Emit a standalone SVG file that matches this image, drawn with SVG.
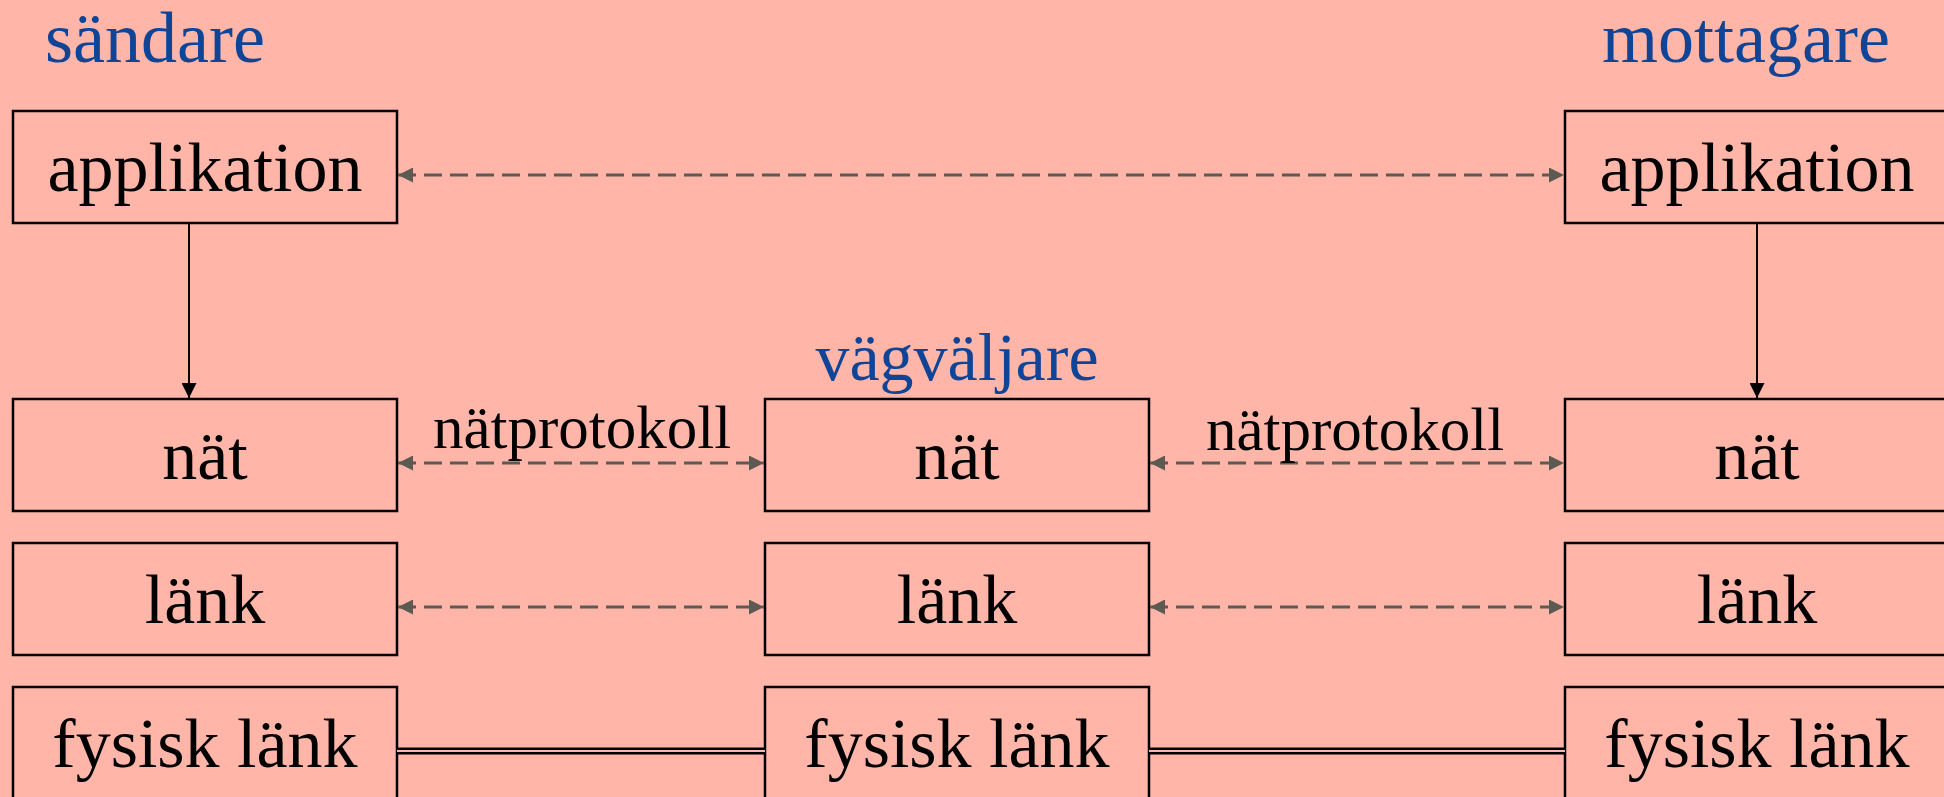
<svg xmlns="http://www.w3.org/2000/svg" width="1944" height="797" viewBox="0 0 1944 797">
<defs>
<style>
.box{fill:none;stroke:#000;stroke-width:2.5}
.lbl{font-family:"Liberation Serif",serif;font-size:70px;fill:#000;text-anchor:middle}
.role{font-family:"Liberation Serif",serif;font-size:72px;fill:#0f4496;text-anchor:middle}
.proto{font-family:"Liberation Serif",serif;font-size:61px;fill:#000;text-anchor:middle}
.dash{stroke:#5c5a52;stroke-width:3;stroke-dasharray:18 8;fill:none;marker-start:url(#hs);marker-end:url(#he)}
.solid{stroke:#000;stroke-width:2;fill:none;marker-end:url(#ha)}
.dbl{stroke:#000;stroke-width:7;fill:none}
.dblin{stroke:#ffb5a8;stroke-width:2;fill:none}
</style>
<marker id="he" viewBox="0 0 15 15" refX="15" refY="7.5" markerWidth="15" markerHeight="15" markerUnits="userSpaceOnUse" orient="auto"><path d="M0,0 L15,7.5 L0,15 z" fill="#5c5a52"/></marker>
<marker id="hs" viewBox="0 0 15 15" refX="0" refY="7.5" markerWidth="15" markerHeight="15" markerUnits="userSpaceOnUse" orient="auto"><path d="M15,0 L0,7.5 L15,15 z" fill="#5c5a52"/></marker>
<marker id="ha" viewBox="0 0 15 15" refX="7.5" refY="15" markerWidth="15" markerHeight="15" markerUnits="userSpaceOnUse" orient="0"><path d="M0,0 L7.5,15 L15,0 z" fill="#000"/></marker>
</defs>
<rect x="0" y="0" width="1944" height="797" fill="#ffb5a8"/>
<g id="labels">
<text class="role" x="155" y="62">sändare</text>
<text class="role" x="1746" y="62">mottagare</text>
<text class="role" x="957" y="380" style="font-size:68px">vägväljare</text>
</g>
<g id="sender-app"><rect class="box" x="13" y="111" width="384" height="112"/><text class="lbl" x="205" y="191">applikation</text></g>
<g id="sender-net"><rect class="box" x="13" y="399" width="384" height="112"/><text class="lbl" x="205" y="479">nät</text></g>
<g id="sender-link"><rect class="box" x="13" y="543" width="384" height="112"/><text class="lbl" x="205" y="623">länk</text></g>
<g id="sender-phys"><rect class="box" x="13" y="687" width="384" height="112"/><text class="lbl" x="205" y="767">fysisk länk</text></g>
<g id="router-net"><rect class="box" x="765" y="399" width="384" height="112"/><text class="lbl" x="957" y="479">nät</text></g>
<g id="router-link"><rect class="box" x="765" y="543" width="384" height="112"/><text class="lbl" x="957" y="623">länk</text></g>
<g id="router-phys"><rect class="box" x="765" y="687" width="384" height="112"/><text class="lbl" x="957" y="767">fysisk länk</text></g>
<g id="receiver-app"><rect class="box" x="1565" y="111" width="384" height="112"/><text class="lbl" x="1757" y="191">applikation</text></g>
<g id="receiver-net"><rect class="box" x="1565" y="399" width="384" height="112"/><text class="lbl" x="1757" y="479">nät</text></g>
<g id="receiver-link"><rect class="box" x="1565" y="543" width="384" height="112"/><text class="lbl" x="1757" y="623">länk</text></g>
<g id="receiver-phys"><rect class="box" x="1565" y="687" width="384" height="112"/><text class="lbl" x="1757" y="767">fysisk länk</text></g>
<g id="connectors">
<line class="dash" x1="398" y1="175" x2="1564" y2="175"/>
<line class="dash" x1="398" y1="463" x2="764" y2="463"/>
<line class="dash" x1="1150" y1="463" x2="1564" y2="463"/>
<line class="dash" x1="398" y1="607" x2="764" y2="607"/>
<line class="dash" x1="1150" y1="607" x2="1564" y2="607"/>
<line class="solid" x1="189" y1="223" x2="189" y2="398"/>
<line class="solid" x1="1757" y1="223" x2="1757" y2="398"/>
<line class="dbl" x1="397" y1="751" x2="765" y2="751"/>
<line class="dblin" x1="397" y1="751" x2="765" y2="751"/>
<line class="dbl" x1="1149" y1="751" x2="1565" y2="751"/>
<line class="dblin" x1="1149" y1="751" x2="1565" y2="751"/>
<text class="proto" x="582" y="448">nätprotokoll</text>
<text class="proto" x="1355" y="450">nätprotokoll</text>
</g>
</svg>
